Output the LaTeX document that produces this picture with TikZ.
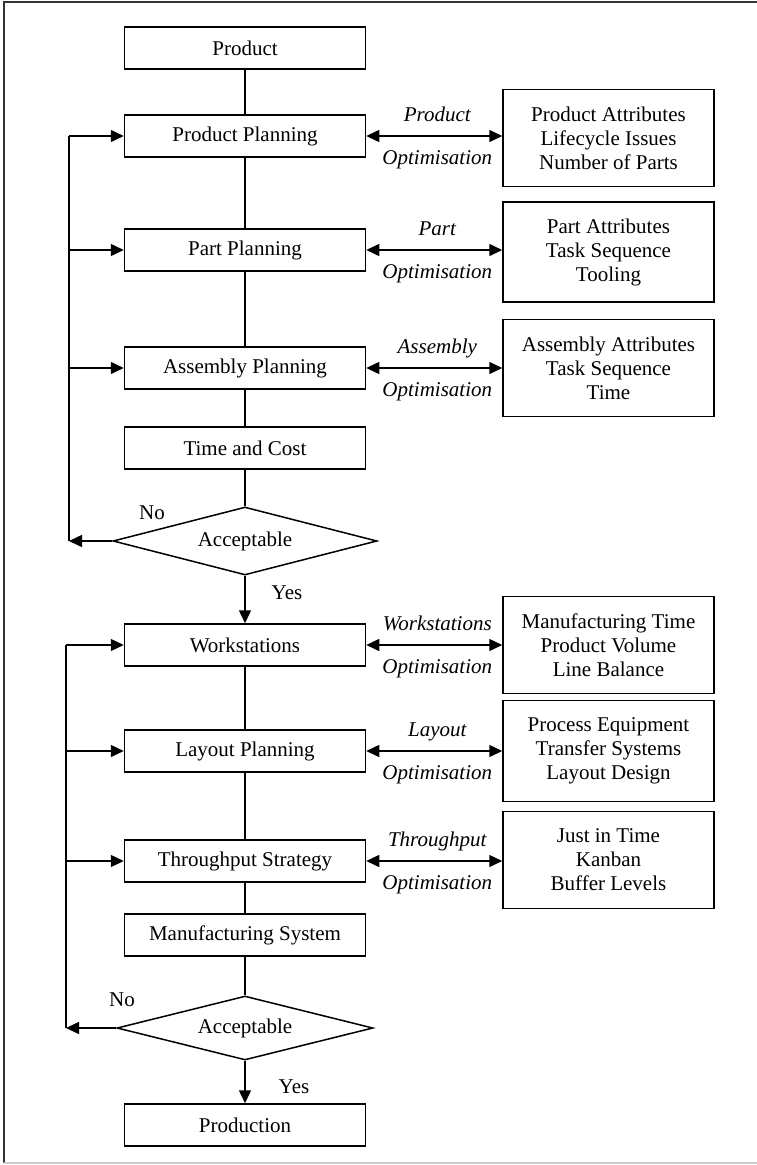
\documentclass[tikz,border=0pt]{standalone}
\usepackage{fontspec}
\setmainfont{Liberation Serif}
\usetikzlibrary{shapes.geometric,arrows.meta}

\begin{document}
\begin{tikzpicture}[x=1pt,y=-1pt,
  every node/.style={font=\fontsize{21}{24}\selectfont},
  stage/.style={draw, line width=1.5pt, minimum width=241pt, minimum height=42pt, inner sep=0pt},
  info/.style={draw, line width=1.5pt, minimum width=211pt, minimum height=97pt, inner sep=0pt, align=center},
  decide/.style={draw, diamond, aspect=4, inner sep=0pt, line width=1.5pt},
  link/.style={line width=1.5pt},
  tip/.tip={Triangle[length=13pt,width=12pt]},
  flow/.style={line width=1.5pt, -tip},
  both/.style={line width=1.5pt, tip-tip},
  lab/.style={font=\itshape\fontsize{21}{24}\selectfont, anchor=base}
]
\useasboundingbox (0,0) rectangle (757,1165);

% frame
\draw[line width=2pt, black!80] (4,1163) -- (4,2) -- (757,2);
\draw[line width=1.5pt, black!20] (4,1163) -- (757,1163);

% main column
\node[stage] (prod)  at (245,48)   {Product};
\node[stage] (pp)    at (245,136)  {Product Planning};
\node[stage] (part)  at (245,250)  {Part Planning};
\node[stage] (asm)   at (245,368)  {Assembly Planning};
\node[stage] (tc)    at (245,448)  {Time and Cost};
\node[decide, minimum width=264pt, minimum height=68pt] (d1) at (245,541) {Acceptable};
\node[stage] (ws)    at (245,645)  {Workstations};
\node[stage] (lp)    at (245,751)  {Layout Planning};
\node[stage] (ts)    at (245,861)  {Throughput Strategy};
\node[stage] (ms)    at (245,935)  {Manufacturing System};
\node[decide, minimum width=256pt, minimum height=64pt] (d2) at (245,1028) {Acceptable};
\node[stage] (pr)    at (245,1125) {Production};

% attribute boxes
\node[info] (ipp)  at (608.5,138) {Product Attributes\\Lifecycle Issues\\Number of Parts};
\node[info, minimum height=100pt] (ipart) at (608.5,252) {Part Attributes\\Task Sequence\\Tooling};
\node[info] (iasm) at (608.5,368) {Assembly Attributes\\Task Sequence\\Time};
\node[info] (iws)  at (608.5,645) {Manufacturing Time\\Product Volume\\Line Balance};
\node[info, minimum height=101pt] (ilp) at (608.5,751) {Process Equipment\\Transfer Systems\\Layout Design};
\node[info] (its)  at (608.5,860) {Just in Time\\Kanban\\Buffer Levels};

% vertical flow
\draw[link] (prod) -- (pp);
\draw[link] (pp) -- (part);
\draw[link] (part) -- (asm);
\draw[link] (asm) -- (tc);
\draw[link] (tc) -- (d1);
\draw[flow] (d1) -- (ws);
\draw[link] (ws) -- (lp);
\draw[link] (lp) -- (ts);
\draw[link] (ts) -- (ms);
\draw[link] (ms) -- (d2);
\draw[flow] (d2) -- (pr);

% decision labels
\node (no1)  at (152,513)  {No};
\node (yes1) at (287,593)  {Yes};
\node (no2)  at (122,1000) {No};
\node (yes2) at (294,1087) {Yes};

% feedback loops
\coordinate (l1b) at (69,541);
\coordinate (l1t) at (69,136);
\draw[flow] (d1.west) -- (l1b);
\draw[link] (l1b) -- (l1t);
\draw[flow] (l1t) -- (pp.west);
\draw[flow] (l1t |- part.west) -- (part.west);
\draw[flow] (l1t |- asm.west) -- (asm.west);

\coordinate (l2b) at (66,1028);
\coordinate (l2t) at (66,645);
\draw[flow] (d2.west) -- (l2b);
\draw[link] (l2b) -- (l2t);
\draw[flow] (l2t) -- (ws.west);
\draw[flow] (l2t |- lp.west) -- (lp.west);
\draw[flow] (l2t |- ts.west) -- (ts.west);

% optimisation links with their labels
\foreach \m/\i/\t in {pp/ipp/Product, part/ipart/Part, asm/iasm/Assembly,
                      ws/iws/Workstations, lp/ilp/Layout, ts/its/Throughput}{
  \draw[both] (\m.east) -- (\m.east -| \i.west);
  \path (\m.east) ++(71,-15) node[lab] (\m-top) {\t};
  \path (\m.east) ++(71,28) node[lab] (\m-bot) {Optimisation};
}
\end{tikzpicture}
\end{document}
